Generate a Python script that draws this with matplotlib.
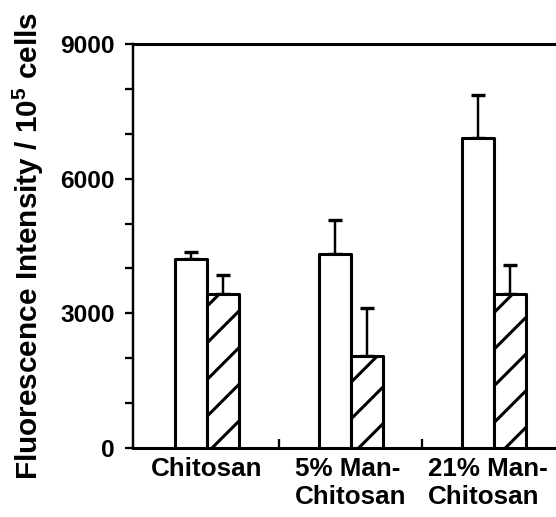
import matplotlib
matplotlib.use("Agg")
import matplotlib.pyplot as plt
from matplotlib.ticker import MultipleLocator, FixedLocator, NullFormatter
from matplotlib.transforms import ScaledTranslation
import numpy as np

# ---- data ----
categories = ["Chitosan", "5% Man-\nChitosan", "21% Man-\nChitosan"]
open_values = [4200, 4330, 6910]
open_err = [160, 740, 960]
hatched_values = [3440, 2040, 3440]
hatched_err = [405, 1085, 640]
ytick_values = [0, 3000, 6000, 9000]
ylabel_text = "Fluorescence Intensity / $10^5$ cells"

DPI = 110
plt.rcParams["font.family"] = ["Liberation Sans", "DejaVu Sans"]
plt.rcParams["font.weight"] = "bold"
plt.rcParams["axes.labelweight"] = "bold"
plt.rcParams["mathtext.default"] = "bf"
plt.rcParams["mathtext.fontset"] = "custom"
plt.rcParams["mathtext.bf"] = "Liberation Sans:bold"
plt.rcParams["mathtext.rm"] = "Liberation Sans:bold"
plt.rcParams["hatch.linewidth"] = 2.0

fig = plt.figure(figsize=(556 / DPI, 517 / DPI), dpi=DPI)
ax = fig.add_axes([133 / 556, 69 / 517, 1 - 133 / 556, (448 - 44) / 517])

x = np.arange(len(categories))
w = 0.223
lw = 2.0

ax.bar(x - w / 2, open_values, width=w, facecolor="white", edgecolor="black",
       linewidth=lw, zorder=3, joinstyle="round")
ax.bar(x + w / 2, hatched_values, width=w, facecolor="white", edgecolor="black",
       linewidth=lw, hatch="/", zorder=3, joinstyle="round")

zeros = [0] * len(categories)
ax.errorbar(x - w / 2, open_values, yerr=[zeros, open_err], fmt="none",
            ecolor="black", elinewidth=1.6, capsize=4.5, capthick=2.2, zorder=2)
ax.errorbar(x + w / 2, hatched_values, yerr=[zeros, hatched_err], fmt="none",
            ecolor="black", elinewidth=1.6, capsize=4.5, capthick=2.2, zorder=2)

ax.set_xlim(-0.516, 2.432)
ax.set_ylim(0, 9000)

# y axis ticks
ax.yaxis.set_major_locator(FixedLocator(ytick_values))
ax.yaxis.set_minor_locator(MultipleLocator(1000))
ax.tick_params(axis="y", which="both", direction="out", length=5, width=1.5)
ax.tick_params(axis="y", which="major", pad=7, labelsize=16.0)

# x axis ticks
ax.set_xticks(x)
ax.set_xticklabels(categories, fontsize=17.0, multialignment="left")
ax.xaxis.set_minor_locator(FixedLocator([0.5, 1.5]))
ax.xaxis.set_minor_formatter(NullFormatter())
ax.tick_params(axis="x", which="major", length=0, pad=6)
ax.tick_params(axis="x", which="minor", direction="in", length=6, width=1.5)
labels = ax.get_xticklabels()
labels[2].set_transform(labels[2].get_transform()
                        + ScaledTranslation(-6 / DPI, 0, fig.dpi_scale_trans))

ax.spines["left"].set_linewidth(1.6)
for side in ["bottom", "top"]:
    ax.spines[side].set_linewidth(2.0)
ax.spines["right"].set_visible(False)

ax.set_ylabel(ylabel_text, fontsize=19.5)
ax.yaxis.set_label_coords(-0.205, 0.5)

fig.savefig("out.png", dpi=DPI)
